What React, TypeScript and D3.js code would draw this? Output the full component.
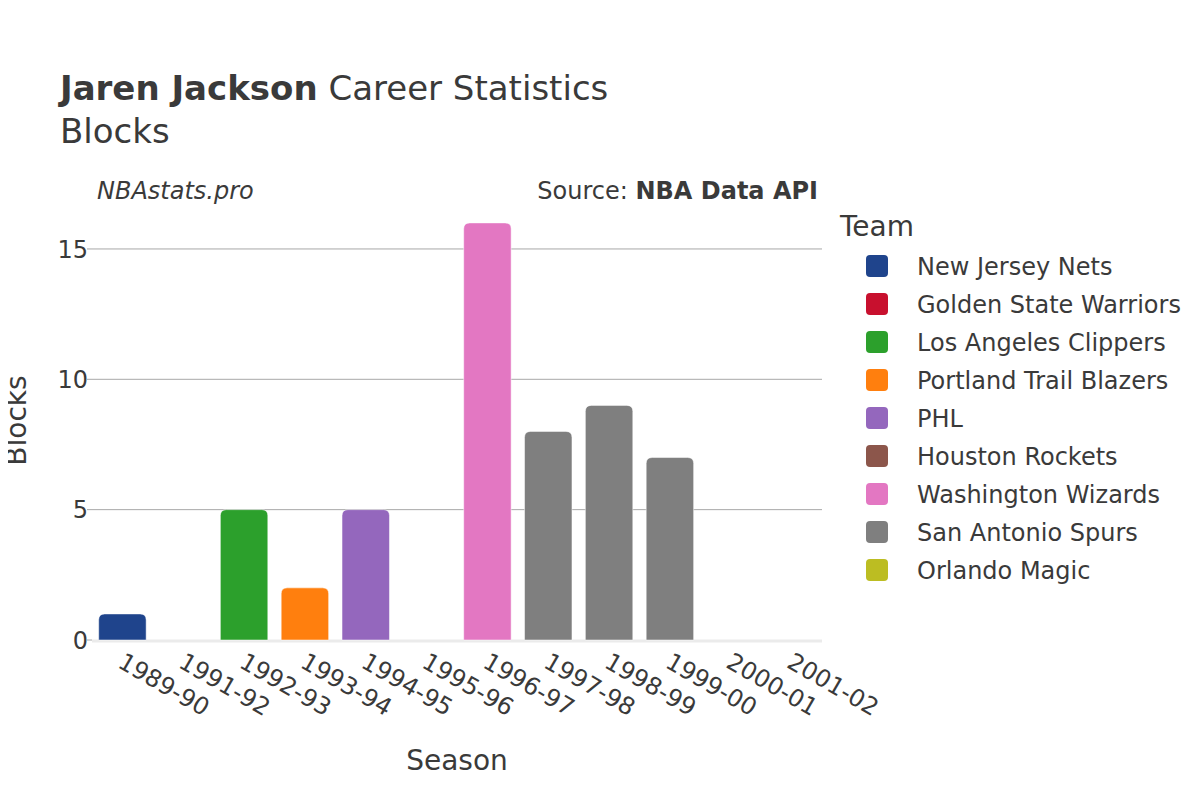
import React, { useEffect, useRef } from 'react';
import * as d3 from 'd3';

const seasons = ['1989-90', '1991-92', '1992-93', '1993-94', '1994-95', '1995-96', '1996-97', '1997-98', '1998-99', '1999-00', '2000-01', '2001-02'];
const seasonTeams = ['New Jersey Nets', 'Golden State Warriors', 'Los Angeles Clippers', 'Portland Trail Blazers', 'PHL', 'Houston Rockets', 'Washington Wizards', 'San Antonio Spurs', 'San Antonio Spurs', 'San Antonio Spurs', 'San Antonio Spurs', 'Orlando Magic'];
const blocks = [1, 0, 5, 2, 5, 0, 16, 8, 9, 7, 0, 0];

const teams = ['New Jersey Nets', 'Golden State Warriors', 'Los Angeles Clippers', 'Portland Trail Blazers', 'PHL', 'Houston Rockets', 'Washington Wizards', 'San Antonio Spurs', 'Orlando Magic'];
const teamColors = ['#1f448c', '#c8102e', '#2ca02c', '#ff7f0e', '#9467bd', '#8c564b', '#e377c2', '#7f7f7f', '#bcbd22'];

const yTicks = [0, 5, 10, 15];
const FONT = '"DejaVu Sans", sans-serif';
const TEXT = '#3a3a3a';

// path for a bar with rounded top corners only
const barPath = (x: number, y: number, w: number, h: number, r: number) => {
  const rr = Math.min(r, h, w / 2);
  return `M${x},${y + h}V${y + rr}Q${x},${y} ${x + rr},${y}H${x + w - rr}Q${x + w},${y} ${x + w},${y + rr}V${y + h}Z`;
};

const App = () => {
  const svgRef = useRef<SVGSVGElement | null>(null);

  useEffect(() => {
    const width = 1200;
    const height = 800;
    const margin = { top: 201, right: 378, bottom: 160, left: 92 };
    const innerWidth = width - margin.left - margin.right;
    const innerHeight = height - margin.top - margin.bottom;

    const svg = d3.select(svgRef.current);
    svg.selectAll('*').remove();
    svg.attr('width', width).attr('height', height).style('font-family', FONT);

    svg.append('rect').attr('width', width).attr('height', height).attr('fill', '#fff');

    const color = d3.scaleOrdinal<string, string>().domain(teams).range(teamColors);
    const xScale = d3.scaleBand().domain(seasons).range([0, innerWidth]).paddingInner(0.22).paddingOuter(0.11);
    const yScale = d3.scaleLinear().domain([0, 16.84]).range([innerHeight, 0]);

    const g = svg.append('g').attr('transform', `translate(${margin.left},${margin.top})`);

    // grid
    g.append('g')
      .selectAll('line')
      .data(yTicks.filter(d => d !== 0))
      .enter()
      .append('line')
      .attr('x1', 0)
      .attr('x2', innerWidth)
      .attr('y1', d => yScale(d))
      .attr('y2', d => yScale(d))
      .attr('stroke', '#a8a8a8')
      .attr('stroke-width', 1);

    // y axis ticks & labels
    const yAxis = g.append('g');
    yAxis.selectAll('line')
      .data(yTicks)
      .enter()
      .append('line')
      .attr('x1', -5)
      .attr('x2', 0)
      .attr('y1', d => yScale(d))
      .attr('y2', d => yScale(d))
      .attr('stroke', '#a8a8a8');
    yAxis.selectAll('text')
      .data(yTicks)
      .enter()
      .append('text')
      .attr('x', -4)
      .attr('y', d => yScale(d))
      .attr('dy', '0.36em')
      .attr('text-anchor', 'end')
      .attr('font-size', 24)
      .attr('fill', TEXT)
      .text(d => d);

    // zero line
    g.append('line')
      .attr('x1', 0)
      .attr('x2', innerWidth)
      .attr('y1', yScale(0) + 1)
      .attr('y2', yScale(0) + 1)
      .attr('stroke', '#ebebeb')
      .attr('stroke-width', 3);

    // bars
    g.append('g')
      .selectAll('path')
      .data(seasons.map((s, i) => ({ season: s, team: seasonTeams[i], value: blocks[i] })).filter(d => d.value > 0))
      .enter()
      .append('path')
      .attr('d', d => barPath(xScale(d.season) as number, yScale(d.value), xScale.bandwidth(), yScale(0) - yScale(d.value), 6))
      .attr('fill', d => color(d.team))
      .attr('stroke', '#fff')
      .attr('stroke-width', 0.5);

    // x tick labels
    g.append('g')
      .selectAll('text')
      .data(seasons)
      .enter()
      .append('text')
      .attr('transform', d => `translate(${(xScale(d) as number) + xScale.bandwidth() / 2 + 3},${innerHeight + 11}) rotate(30)`)
      .attr('dy', '0.75em')
      .attr('text-anchor', 'start')
      .attr('font-size', 24)
      .attr('fill', TEXT)
      .text(d => d);

    // axis titles
    svg.append('text')
      .attr('x', margin.left + innerWidth / 2)
      .attr('y', 770)
      .attr('text-anchor', 'middle')
      .attr('font-size', 28)
      .attr('fill', TEXT)
      .text('Season');
    svg.append('text')
      .attr('transform', `translate(26,${margin.top + innerHeight / 2}) rotate(-90)`)
      .attr('text-anchor', 'middle')
      .attr('font-size', 28)
      .attr('fill', TEXT)
      .text('Blocks');

    // titles
    const title = svg.append('text').attr('x', 60).attr('y', 100).attr('font-size', 34).attr('fill', TEXT);
    title.append('tspan').attr('font-weight', 'bold').text('Jaren Jackson');
    title.append('tspan').text(' Career Statistics');
    svg.append('text').attr('x', 60).attr('y', 143).attr('font-size', 34).attr('fill', TEXT).text('Blocks');

    svg.append('text')
      .attr('x', 97)
      .attr('y', 199)
      .attr('font-size', 24)
      .attr('font-style', 'italic')
      .attr('fill', TEXT)
      .text('NBAstats.pro');
    const src = svg.append('text')
      .attr('x', 818)
      .attr('y', 199)
      .attr('text-anchor', 'end')
      .attr('font-size', 24)
      .attr('fill', TEXT);
    src.append('tspan').text('Source: ');
    src.append('tspan').attr('font-weight', 'bold').text('NBA Data API');

    // legend
    const legend = svg.append('g').attr('transform', 'translate(840,0)');
    legend.append('text')
      .attr('x', 0)
      .attr('y', 236)
      .attr('font-size', 28)
      .attr('fill', TEXT)
      .text('Team');
    const items = legend.selectAll('g.item')
      .data(teams)
      .enter()
      .append('g')
      .attr('class', 'item')
      .attr('transform', (d, i) => `translate(0,${266 + i * 38})`);
    items.append('rect')
      .attr('x', 26)
      .attr('y', -11)
      .attr('width', 22)
      .attr('height', 22)
      .attr('rx', 4)
      .attr('fill', d => color(d));
    items.append('text')
      .attr('x', 77)
      .attr('dy', '0.36em')
      .attr('font-size', 24)
      .attr('fill', TEXT)
      .text(d => d);
  }, []);

  return (
    <div style={{ width: 1200, height: 800, margin: -8 }}>
      <svg ref={svgRef} style={{ display: 'block' }} />
    </div>
  );
};

export default App;
